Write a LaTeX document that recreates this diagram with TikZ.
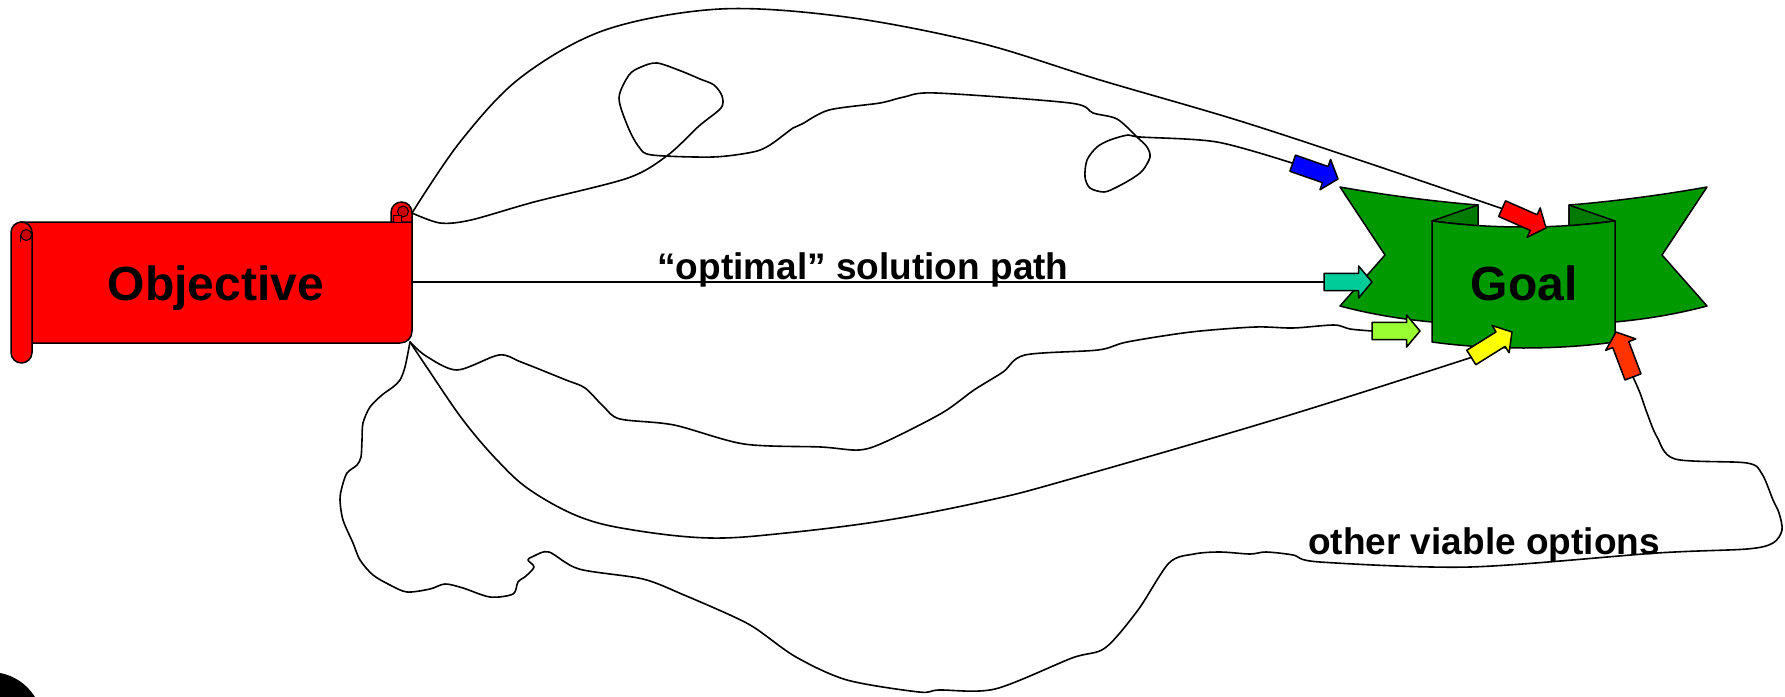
\documentclass[tikz,border=0pt]{standalone}
\usepackage{fontspec}
\setmainfont{Liberation Sans}
\usetikzlibrary{shapes.arrows}
\definecolor{ribbongreen}{RGB}{0,153,0}
\definecolor{folddark}{RGB}{0,122,0}
\definecolor{scrollred}{RGB}{255,0,0}
\definecolor{curlred}{RGB}{200,0,0}
\definecolor{tealc}{RGB}{0,204,153}
\definecolor{limec}{RGB}{153,255,51}
\definecolor{yellowc}{RGB}{255,255,0}
\definecolor{orangec}{RGB}{255,51,0}
\definecolor{bluec}{RGB}{0,0,255}
\begin{document}
\begin{tikzpicture}[x=1pt,y=-1pt,
  conn/.style={line width=1.6pt, line join=round, line cap=round},
  outl/.style={draw=black, line width=1.5pt, line join=round},
  arrowbox/.style={single arrow, outl, minimum height=48pt, inner xsep=0pt, inner ysep=7.8pt,
    single arrow head extend=7.5pt, single arrow tip angle=100, outer sep=0pt},
  bigtext/.style={font=\fontsize{48}{52}\selectfont\bfseries, inner sep=0pt, anchor=base},
  lbltext/.style={font=\fontsize{37}{40}\selectfont\bfseries, inner sep=0pt, anchor=base}]
\useasboundingbox (0,0) rectangle (1785,696);
\clip (0,0) rectangle (1785,696);

% black disc at bottom-left
\fill[black] (-10,725) circle[radius=53pt];

% ---------- Objective scroll ----------
\filldraw[outl, fill=scrollred, rounded corners=10.5pt] (391,224) -- (391,202) -- (412,202) -- (412,224);
\fill[curlred, draw=black, line width=1pt] (403,211.5) circle[radius=5.5pt];
\filldraw[outl, fill=scrollred] (20,222) -- (412,222) -- (412,331) .. controls (412,338) and (407,343) .. (400,343) -- (20,343) -- cycle;
\filldraw[outl, fill=scrollred, line width=1pt] (393.5,215.5) rectangle (401.5,222);
\filldraw[outl, fill=scrollred, rounded corners=10.5pt] (11,222) rectangle (32,363);
\filldraw[fill=curlred, draw=black, line width=1pt] (26.3,235) circle[radius=5.5pt];
\draw[line width=1pt] (20.8,235) -- (20.8,242);
\node[bigtext] (obj) at (216,300) {Objective};
\coordinate (objtr) at (412,213);
\coordinate (objr) at (412,282);
\coordinate (objbr) at (410,342);

% ---------- Goal ribbon ----------
\filldraw[outl, fill=ribbongreen] (1340,187) .. controls (1390,196) and (1440,202) .. (1478,205)
  -- (1478,300) -- (1432,322) .. controls (1400,319) and (1370,314) .. (1340,306) -- (1385,255) -- cycle;
\filldraw[outl, fill=ribbongreen] (1707,187) .. controls (1657,196) and (1607,202) .. (1569,205)
  -- (1569,300) -- (1615,322) .. controls (1647,319) and (1677,314) .. (1707,306) -- (1662,255) -- cycle;
\filldraw[outl, fill=folddark] (1432,221) -- (1478,205) -- (1478,226) -- cycle;
\filldraw[outl, fill=folddark] (1615,221) -- (1569,205) -- (1569,226) -- cycle;
\filldraw[outl, fill=ribbongreen] (1432,221) .. controls (1490,229) and (1557,229) .. (1615,221)
  -- (1615,342) .. controls (1557,350) and (1490,350) .. (1432,342) -- cycle;
\node[bigtext] (goal) at (1524,300) {Goal};

% ---------- block arrows ----------
\node[arrowbox, fill=bluec, rotate=-19.2, anchor=tip] (ablue) at (1338,179) {};
\node[arrowbox, fill=scrollred, rotate=-23.8, anchor=tip] (ared) at (1546,228) {};
\node[arrowbox, fill=tealc, anchor=tip] (ateal) at (1372,282) {};
\node[arrowbox, fill=limec, anchor=tip] (alime) at (1420,331) {};
\node[arrowbox, fill=yellowc, rotate=32, anchor=tip] (ayellow) at (1512,332) {};
\node[arrowbox, fill=orangec, rotate=110.7, anchor=tip] (aorange) at (1616,332) {};

% ---------- connectors ----------
% big upper arc
\draw[conn] plot[smooth, tension=0.55] coordinates {(objtr) (460,142) (520,78) (605,30) (720,9) (846,17) (980,43) (1100,80) (1240,121) (1380,167) (ared.tail)};
% wiggly upper path with two loops
\draw[conn] plot[smooth, tension=0.5] coordinates {(objtr) (440,223) (471,220) (534,202) (628,178) (668,155) (699,126) (721,108) (722,96) (714,85) (700,79) (681,71) (657,63) (641,67) (629,75) (619,98) (628,127) (639,147) (652,155) (713,157) (753,152) (770,145) (793,128) (802,124) (829,110) (880,103) (904,97) (936,93) (1070,103) (1093,113) (1117,119) (1137,137) (1147,147) (1150,157) (1143,170) (1133,178) (1117,187) (1104,192) (1090,188) (1085,177) (1087,160) (1097,147) (1110,140) (1128,135) (1140,137) (1217,142) (ablue.tail)};
% optimal path
\draw[conn] (objr) -- (ateal.tail);
\node[lbltext] (optlbl) at (863,279) {“optimal” solution path};
% wiggly middle path
\draw[conn] plot[smooth, tension=0.5] coordinates {(objbr) (426,356) (457,370) (499,355) (521,362) (566,380) (585,388) (604,407) (620,419) (674,425) (744,444) (821,447) (859,450) (885,442) (942,413) (974,390) (1003,372) (1025,355) (1098,350) (1127,342) (1191,332) (1255,327) (1293,328) (1334,325) (1350,329) (alime.tail)};
% smooth lower curve
\draw[conn] plot[smooth, tension=0.6] coordinates {(objbr) (430,372) (463,420) (497,460) (530,490) (580,517) (633,530) (710,538) (786,533) (888,520) (990,500) (1067,480) (1280,418) (ayellow.tail)};
% long bottom path
\draw[conn] plot[smooth, tension=0.5] coordinates {(objbr) (405,367) (400,380) (393,387) (382,395) (370,407) (363,423) (362,440) (361,457) (357,465) (347,473) (342,487) (340,500) (343,520) (353,543) (360,560) (373,575) (390,585) (407,592) (430,589) (445,584) (463,588) (490,597) (513,594) (518,582) (526,576) (534,567) (528,560) (534,556) (549,552) (579,569) (643,579) (684,595) (730,615) (755,628) (796,657) (847,680) (919,692) (939,690) (995,689) (1072,658) (1105,648) (1138,610) (1169,563) (1194,554) (1220,552) (1250,554) (1266,552) (1293,555) (1320,562) (1470,567) (1657,553) (1747,549) (1773,543) (1782,530) (1779,513) (1773,500) (1762,474) (1747,463) (1675,459) (1657,437) (1647,413) (1640,393) (aorange.tail)};
\node[lbltext] (othlbl) at (1484,554) {other viable options};
\end{tikzpicture}
\end{document}
